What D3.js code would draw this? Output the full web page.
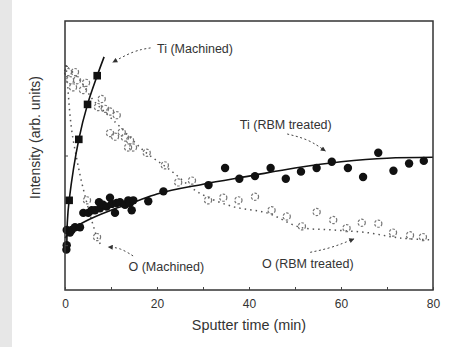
<!DOCTYPE html>
<html><head><meta charset="utf-8">
<script src="https://cdn.jsdelivr.net/npm/d3@7"></script>
<style>
html,body{margin:0;padding:0;background:#fff;}
svg{display:block;}
text{font-family:"Liberation Sans",Arial,sans-serif;fill:#333;}
</style></head>
<body><svg id="c" width="471" height="347"></svg>
<script>
// ---- data (t in min, intensity in arb. units) ----
const xTickValues = [0, 20, 40, 60, 80];
const xMinorTicks = [0, 10, 20, 30, 40, 50, 60, 70, 80];
const yTickValues = [0.5, 1.5, 2.5];

const tiMachinedPts = [[0.9,1.0],[3.0,1.68],[4.9,2.07],[7.0,2.39]];
const tiMachinedFit = [[0.4,0.45],[0.5,0.75],[0.9,1.0],[3.0,1.68],[4.9,2.07],[7.0,2.39],[8.5,2.6]];

const tiRbmPts = [[0.3,0.45],[0.37,0.5],[0.37,0.67],[1.09,0.64],[1.46,0.67],[2.17,0.70],[3.26,0.70],[3.98,0.86],
 [5.07,0.86],[5.8,0.89],[6.52,0.89],[7.39,0.98],[7.61,0.91],[8.26,0.95],[9.07,0.93],[9.78,1.03],
 [10.15,0.96],[10.87,0.86],[11.24,0.97],[11.96,0.98],[13.04,0.95],[13.76,1.0],[14.13,0.97],[14.5,0.89],
 [14.85,1.0],[18.1,0.99],[21.4,1.10],[31.2,1.17],[34.8,1.36],[37.9,1.24],[41.3,1.27],[44.7,1.36],
 [48.0,1.24],[51.3,1.32],[54.7,1.36],[58.0,1.43],[61.5,1.36],[64.8,1.26],[68.1,1.53],[71.4,1.33],
 [74.8,1.41],[78.0,1.44]];
const tiRbmFit = [[0,0.58],[2,0.69],[5,0.78],[10,0.89],[15,0.98],[20,1.07],[30,1.18],[40,1.27],
 [50,1.36],[60,1.43],[70,1.47],[80,1.48]];

const oMachinedPts = [[0.65,2.43],[1.09,2.34],[1.74,2.26],[4.78,1.0],[6.96,0.59]];
const oMachinedFit = [[0.22,2.51],[0.65,2.23],[1.09,1.95],[1.6,1.73],[2.6,1.45],[3.5,1.23],[4.6,1.0],
 [5.9,0.76],[6.96,0.59],[8.0,0.48]];

const oRbmPts = [[2.17,2.43],[2.61,2.34],[4.57,2.31],[3.91,2.23],[7.98,2.13],[7.17,2.04],[8.7,2.02],
 [9.78,1.99],[11.24,1.95],[9.78,1.75],[10.87,1.71],[12.33,1.76],[13.04,1.70],[14.13,1.67],[13.7,1.59],
 [14.78,1.59],[17.76,1.53],[21.7,1.39],[24.6,1.20],[27.6,1.22],[31.1,1.0],[34.4,1.03],[37.7,1.0],
 [41.3,1.04],[44.9,0.89],[48.2,0.82],[51.5,0.71],[54.7,0.87],[58.3,0.78],[61.2,0.69],[64.5,0.75],
 [68.1,0.74],[71.3,0.64],[75.0,0.61],[77.8,0.59]];
const oRbmFit = [[0.65,2.48],[3.26,2.34],[6.09,2.12],[9.35,1.95],[11.96,1.82],[16.96,1.56],[22.8,1.34],
 [29.3,1.08],[36.5,0.93],[43.9,0.86],[51.1,0.70],[58.3,0.67],[65.7,0.64],[72.8,0.58],[79.3,0.56]];

const labels = ["Ti (Machined)", "Ti (RBM treated)", "O (Machined)", "O (RBM treated)"];

// ---- layout ----
const svg = d3.select("#c");
const L = 65, R = 433, T = 21, B = 290;
svg.append("rect").attr("x",0).attr("y",0).attr("width",12).attr("height",347).attr("fill","#e7e7e7");

const x = d3.scaleLinear().domain([0,80]).range([L,R]);
const y = d3.scaleLinear().domain([0,3]).range([B,T]);

const plot = svg.append("g");
const defs = svg.append("defs");
defs.append("marker").attr("id","ah").attr("viewBox","0 0 10 10").attr("refX",9).attr("refY",5)
  .attr("markerWidth",6).attr("markerHeight",5).attr("orient","auto")
  .append("path").attr("d","M0,0L10,5L0,10z").attr("fill","#333");

// fit lines
const line = d3.line().x(d=>x(d[0])).y(d=>y(d[1])).curve(d3.curveMonotoneX);
const lineC = d3.line().x(d=>x(d[0])).y(d=>y(d[1])).curve(d3.curveCatmullRom);
plot.append("path").datum(oRbmFit).attr("d",lineC).attr("fill","none").attr("stroke","#555")
  .attr("stroke-width",1.5).attr("stroke-dasharray","1.5,4");
plot.append("path").datum(oMachinedFit).attr("d",lineC).attr("fill","none").attr("stroke","#555")
  .attr("stroke-width",1.5).attr("stroke-dasharray","1.5,4");

// open circles
plot.selectAll(".orbm").data(oRbmPts).join("circle").attr("cx",d=>x(d[0])).attr("cy",d=>y(d[1]))
  .attr("r",3.6).attr("fill","none").attr("stroke","#777").attr("stroke-width",1.2).attr("stroke-dasharray","2.5,1.5");
plot.selectAll(".omach").data(oMachinedPts).join("circle").attr("cx",d=>x(d[0])).attr("cy",d=>y(d[1]))
  .attr("r",3.6).attr("fill","none").attr("stroke","#777").attr("stroke-width",1.2).attr("stroke-dasharray","2.5,1.5");

plot.append("path").datum(tiRbmFit).attr("d",line).attr("fill","none").attr("stroke","#111").attr("stroke-width",1.6);
plot.append("path").datum(tiMachinedFit).attr("d",lineC).attr("fill","none").attr("stroke","#111").attr("stroke-width",1.6);

plot.selectAll(".tirbm").data(tiRbmPts).join("circle").attr("cx",d=>x(d[0])).attr("cy",d=>y(d[1]))
  .attr("r",4.2).attr("fill","#111");
plot.selectAll(".timach").data(tiMachinedPts).join("rect").attr("x",d=>x(d[0])-3.8).attr("y",d=>y(d[1])-3.8)
  .attr("width",7.6).attr("height",7.6).attr("fill","#111");

// frame
svg.append("rect").attr("x",L).attr("y",T).attr("width",R-L).attr("height",B-T)
  .attr("fill","none").attr("stroke","#333").attr("stroke-width",1.5);

// axes ticks (inside)
const xAxis = d3.axisTop(x).tickValues(xMinorTicks).tickSize(3).tickFormat("");
svg.append("g").attr("transform",`translate(0,${B})`).call(xAxis)
  .call(g=>g.select(".domain").remove()).selectAll("line").attr("stroke","#444");
const xLab = d3.axisBottom(x).tickValues(xTickValues).tickSize(0).tickPadding(9).tickFormat(d3.format("d"));
svg.append("g").attr("transform",`translate(0,${B})`).call(xLab)
  .call(g=>g.select(".domain").remove())
  .selectAll("text").attr("font-size",12).attr("fill","#333").style("font-family","Liberation Sans, Arial, sans-serif");
const yAxis = d3.axisRight(y).tickValues(yTickValues).tickSize(3).tickFormat("");
svg.append("g").attr("transform",`translate(${L},0)`).call(yAxis)
  .call(g=>g.select(".domain").remove()).selectAll("line").attr("stroke","#444");

// axis titles
svg.append("text").attr("x",(L+R)/2).attr("y",330).attr("text-anchor","middle").attr("font-size",14.4).text("Sputter time (min)");
svg.append("text").attr("transform",`translate(40,${(T+B)/2 - 18}) rotate(-90)`).attr("text-anchor","middle")
  .attr("font-size",14).text("Intensity (arb. units)");

// annotations
const ann = [
  {t:20.0, v:2.69, arrow:[[18.6,2.70],[15,2.67],[10.4,2.54]]},
  {t:38.0, v:1.85, arrow:[[48.3,1.74],[53,1.68],[56.6,1.55]]},
  {t:13.8, v:0.26, arrow:[[14.8,0.38],[12,0.47],[9.4,0.48]]},
  {t:42.8, v:0.30, arrow:[[53.3,0.42],[58,0.47],[62.8,0.57]]}
];
ann.forEach((a,i)=>{
  svg.append("text").attr("x",x(a.t)).attr("y",y(a.v)+4.5).attr("font-size",12.5).text(labels[i]);
  svg.append("path").datum(a.arrow).attr("d",d3.line().x(d=>x(d[0])).y(d=>y(d[1])).curve(d3.curveBasis))
    .attr("fill","none").attr("stroke","#444").attr("stroke-width",1).attr("stroke-dasharray","2,2.5")
    .attr("marker-end","url(#ah)");
});
</script></body></html>
